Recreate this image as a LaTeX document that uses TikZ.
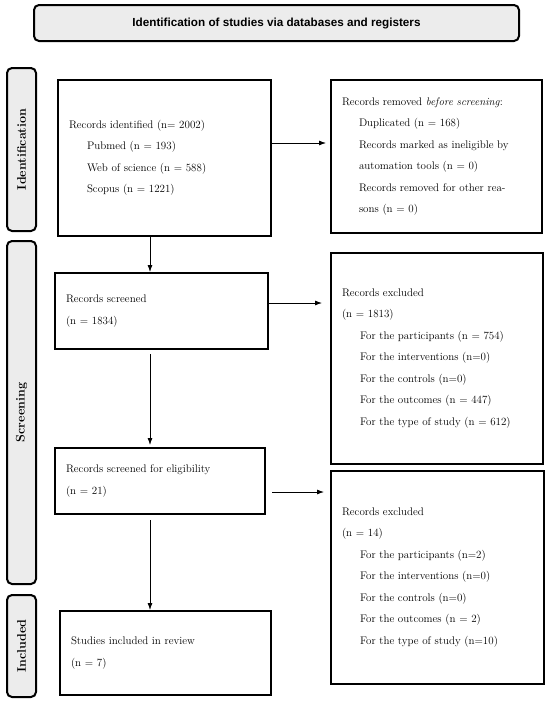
\documentclass[tikz,border=0pt]{standalone}
\usepackage{fontspec}
\usepackage{tikz}
\usetikzlibrary{arrows.meta}
\newfontfamily\bannerfont{Liberation Sans}
\definecolor{sidegray}{RGB}{236,236,236}

\begin{document}
\begin{tikzpicture}[x=1pt,y=-1pt]
	\tikzstyle{box}=[draw=black,line width=2pt,rectangle,inner xsep=11pt,align=left,font=\fontsize{11}{21.5}\selectfont]
	\tikzstyle{side}=[draw=black,line width=2pt,rounded corners=5pt,fill=sidegray,inner sep=0pt,font=\fontsize{12.5}{14}\selectfont\bfseries]
	\tikzstyle{link}=[-{Latex[length=7pt,width=5pt]},line width=0.8pt]
	\useasboundingbox (0,0) rectangle (550,702);
	\node[side,minimum width=485pt,minimum height=36pt,font=\bannerfont\fontsize{11.7}{13}\selectfont\bfseries] (title) at (276.5,23) {Identification of studies via databases and registers};
	\node[side,minimum width=163pt,minimum height=29pt,rotate=90] (s1) at (21.5,149.5) {Identification};
	\node[side,minimum width=343pt,minimum height=29pt,rotate=90] (s2) at (21.5,412.5) {Screening};
	\node[side,minimum width=102pt,minimum height=29pt,rotate=90] (s3) at (21.5,646) {Included};
	\node[box,text width=191pt,minimum height=156pt] (found) at (164.5,158) {Records identified (n= 2002)\\
		\hspace*{18pt}Pubmed (n = 193)\\
		\hspace*{18pt}Web of science (n = 588)\\
		\hspace*{18pt}Scopus (n = 1221)};
	\node[box,text width=189pt,minimum height=153pt] (removed) at (436.5,156.5) {Records removed \textit{before screening}:\\
		\hspace*{17pt}Duplicated (n = 168)\\
		\hspace*{17pt}\makebox[170pt][s]{Records marked as ineligible by}\\
		\hspace*{17pt}automation tools (n = 0)\\
		\hspace*{17pt}\makebox[170pt][s]{Records removed for other rea-}\\
		\hspace*{17pt}sons (n = 0)};
	\node[box,text width=191pt,minimum height=76pt] (screened) at (161.5,311) {Records screened\\
		(n = 1834)};
	\node[box,text width=190pt,minimum height=211pt] (excluded) at (437,358.5) {Records excluded\\
		(n = 1813)\\
		\hspace*{18pt}For the participants (n = 754)\\
		\hspace*{18pt}For the interventions (n=0)\\
		\hspace*{18pt}For the controls (n=0)\\
		\hspace*{18pt}For the outcomes (n = 447)\\
		\hspace*{18pt}For the type of study (n = 612)};
	\node[box,text width=188pt,minimum height=66pt] (eligible) at (160,481) {Records screened for eligibility\\
		(n = 21)};
	\node[box,text width=191pt,minimum height=213pt] (excludedb) at (437.5,577.5) {Records excluded\\
		(n = 14)\\
		\hspace*{18pt}For the participants (n=2)\\
		\hspace*{18pt}For the interventions (n=0)\\
		\hspace*{18pt}For the controls (n=0)\\
		\hspace*{18pt}For the outcomes (n = 2)\\
		\hspace*{18pt}For the type of study (n=10)};
	\node[box,text width=189pt,minimum height=84pt] (included) at (165.5,653) {Studies included in review\\
		(n = 7)};
	\coordinate (spine) at (150,0);
	\coordinate (r1) at (0,143);
	\coordinate (r2) at (0,303);
	\coordinate (r3) at (0,492);
	\draw[link] (found.south -| spine) -- (screened.north -| spine);
	\draw[link,shorten <=4pt,shorten >=2pt] (screened.south -| spine) -- (eligible.north -| spine);
	\draw[link,shorten <=5pt] (eligible.south -| spine) -- (included.north -| spine);
	\draw[link,shorten >=4pt] (found.east |- r1) -- (removed.west |- r1);
	\draw[link,shorten >=8pt] (screened.east |- r2) -- (excluded.west |- r2);
	\draw[link,shorten <=6pt,shorten >=6pt] (eligible.east |- r3) -- (excludedb.west |- r3);
\end{tikzpicture}
\end{document}
